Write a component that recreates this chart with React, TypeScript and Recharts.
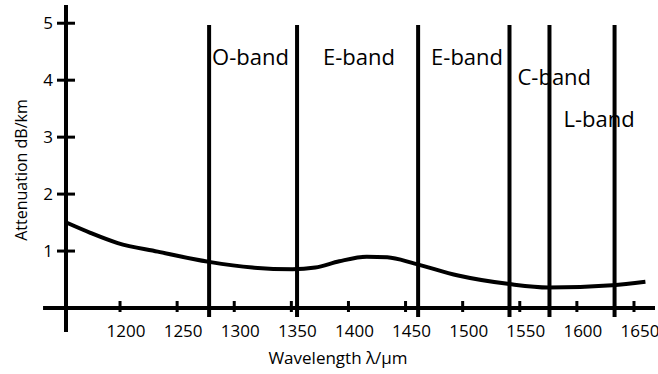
import { LineChart, Line, XAxis, YAxis, ReferenceLine } from 'recharts'

const FONT = "'Open Sans', sans-serif"
const INK = '#000'

// attenuation curve of standard single-mode fibre
const wavelengths = [1153, 1174, 1198, 1233, 1278, 1316, 1351, 1371, 1392, 1416, 1434, 1458, 1496, 1541, 1575, 1631, 1660]
const attenuation = [1.5, 1.32, 1.14, 0.99, 0.81, 0.71, 0.68, 0.71, 0.82, 0.9, 0.89, 0.78, 0.57, 0.42, 0.36, 0.4, 0.46]

const xTicks = [1200, 1250, 1300, 1350, 1400, 1450, 1500, 1550, 1600, 1650]
const yTicks = [1, 2, 3, 4, 5]

// band boundaries and the name written to the right of each
const bandEdges = [1278, 1355, 1461, 1541, 1576, 1633]
const bandNames = ['O-band', 'E-band', 'E-band', 'C-band', 'L-band', '']

const X_DOMAIN: [number, number] = [1152.7, 1668.4]
const Y_DOMAIN: [number, number] = [0, 5.32]
const AXIS_LEFT = 1132.6
const AXIS_BOTTOM = -0.42
const LINE_TOP = 4.97
const LINE_BOTTOM = -0.16

// label offsets (px) from the top of each band line
const labelOffsets = [
  { dx: 3, dy: 40 },
  { dx: 26, dy: 40 },
  { dx: 13, dy: 40 },
  { dx: 8, dy: 60 },
  { dx: 14, dy: 102 },
  { dx: 0, dy: 0 },
]

const data = wavelengths.map((wl, i) => ({ wl, att: attenuation[i] }))

const XTick = ({ x, y, payload }: any) => (
  <g>
    <line x1={x} x2={x} y1={y - 7} y2={y + 4} stroke={INK} strokeWidth={3} />
    <text x={x + 6} y={y + 29} textAnchor="middle" fontSize={17} fontFamily={FONT} fill={INK}>
      {payload.value}
    </text>
  </g>
)

const YTick = ({ x, y, payload }: any) => (
  <g>
    <line x1={x - 9} x2={x + 9} y1={y} y2={y} stroke={INK} strokeWidth={3} />
    <text x={x - 13} y={y + 6} textAnchor="end" fontSize={17} fontFamily={FONT} fill={INK}>
      {payload.value}
    </text>
  </g>
)

const bandLabel = (name: string, dx: number, dy: number) => (props: any) => {
  const vb = props.viewBox
  if (!name || !vb) return null
  return (
    <text x={vb.x + dx} y={vb.y + dy} fontSize={22} fontFamily={FONT} fill={INK}>
      {name}
    </text>
  )
}

export default function App() {
  return (
    <div style={{ position: 'absolute', left: 0, top: 0, background: '#fff' }}>
      <LineChart width={658} height={374} data={data} margin={{ top: 5, right: 3, left: 6, bottom: 0 }}>
        <XAxis
          dataKey="wl"
          type="number"
          domain={X_DOMAIN}
          allowDataOverflow
          ticks={xTicks}
          tick={<XTick />}
          tickSize={0}
          tickMargin={0}
          axisLine={false}
          tickLine={false}
          height={66}
          label={{
            content: (props: any) => {
              const vb = props.viewBox
              return (
                <text x={vb.x + 272} y={vb.y + 56} textAnchor="middle" fontSize={17} fontFamily={FONT} fill={INK}>
                  Wavelength λ/μm
                </text>
              )
            },
          }}
        />
        <YAxis
          type="number"
          domain={Y_DOMAIN}
          allowDataOverflow
          ticks={yTicks}
          tick={<YTick />}
          tickSize={0}
          tickMargin={0}
          axisLine={false}
          tickLine={false}
          width={60}
          label={{
            content: (props: any) => {
              const vb = props.viewBox
              const cx = vb.x + 21
              const cy = vb.y + 165
              return (
                <text
                  x={cx}
                  y={cy}
                  transform={`rotate(-90, ${cx}, ${cy})`}
                  textAnchor="middle"
                  fontSize={16}
                  fontFamily={FONT}
                  fill={INK}
                >
                  Attenuation dB/km
                </text>
              )
            },
          }}
        />

        {/* axes drawn as segments so they can cross past the origin */}
        <ReferenceLine
          segment={[{ x: AXIS_LEFT, y: 0 }, { x: X_DOMAIN[1], y: 0 }]}
          stroke={INK}
          strokeWidth={4}
          ifOverflow="visible"
        />
        <ReferenceLine
          segment={[{ x: X_DOMAIN[0], y: AXIS_BOTTOM }, { x: X_DOMAIN[0], y: Y_DOMAIN[1] }]}
          stroke={INK}
          strokeWidth={4}
          ifOverflow="visible"
        />

        {bandEdges.map((edge, i) => (
          <ReferenceLine
            key={edge}
            segment={[{ x: edge, y: LINE_BOTTOM }, { x: edge, y: LINE_TOP }]}
            stroke={INK}
            strokeWidth={4}
            ifOverflow="visible"
            label={{ content: bandLabel(bandNames[i], labelOffsets[i].dx, labelOffsets[i].dy) }}
          />
        ))}

        <Line
          type="monotone"
          dataKey="att"
          stroke={INK}
          strokeWidth={4}
          dot={false}
          activeDot={false}
          isAnimationActive={false}
        />
      </LineChart>
    </div>
  )
}
